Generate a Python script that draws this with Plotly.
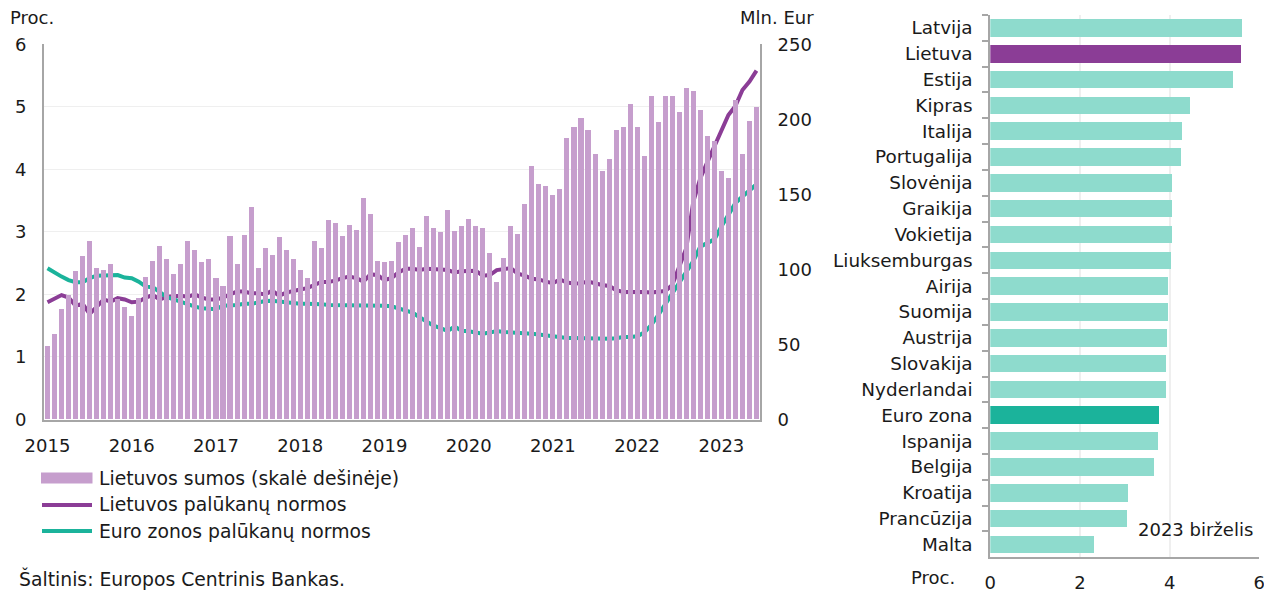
import plotly.graph_objects as go

# ---------------- data ----------------
years = ["2015", "2016", "2017", "2018", "2019", "2020", "2021", "2022", "2023"]

lt_amounts = [
    48.5, 56.8, 73.7, 83, 98.8, 109, 118.8, 101, 99.7, 103.7, 80, 74.8,
    69, 81, 94.8, 105.7, 115.7, 106.8, 96.8, 103.7, 118.8, 112.8, 104.8, 106.8,
    93.9, 89, 121.9, 103.7, 122.8, 141.7, 100.8, 113.9, 109.7, 121.7, 112.8, 106.8,
    99.7, 93.9, 118.8, 113.9, 132.8, 131, 121.9, 129.7, 125.9, 147.7, 136.8, 105.7,
    104.8, 105.7, 117.9, 122.8, 127.7, 114.8, 135.7, 127.7, 124.8, 139.7, 125.7, 128.5,
    133.7, 128.5, 127.7, 110.5, 91.7, 107.7, 128.5, 123.7, 143.7, 168.8, 156.8, 155.7,
    149.7, 153.7, 187.7, 194.8, 200.8, 192.8, 176.8, 165.7, 173.7, 192.8, 194.8, 209.7,
    194.8, 175.7, 215.5, 197.7, 215.5, 215.5, 204.8, 220.8, 218.8, 205.7, 188.8, 185.7,
    165.7, 160.8, 212.8, 176.8, 198.8, 207.7,
]

lt_rates = [
    1.875, 1.94, 1.99, 1.95, 1.82, 1.85, 1.69, 1.80, 1.92, 1.885, 1.94, 1.92,
    1.875, 1.885, 1.95, 1.99, 1.92, 1.965, 1.98, 1.98, 1.965, 2.00, 1.95, 1.92,
    1.92, 1.95, 2.00, 2.045, 2.045, 2.02, 2.02, 2.00, 2.06, 1.98, 2.03, 2.06,
    2.08, 2.10, 2.15, 2.20, 2.20, 2.22, 2.26, 2.285, 2.26, 2.205, 2.32, 2.31,
    2.23, 2.26, 2.35, 2.41, 2.41, 2.39, 2.41, 2.41, 2.40, 2.39, 2.35, 2.37,
    2.37, 2.38, 2.30, 2.31, 2.39, 2.40, 2.42, 2.33, 2.30, 2.25, 2.24, 2.205,
    2.18, 2.24, 2.19, 2.175, 2.18, 2.205, 2.17, 2.15, 2.135, 2.07, 2.04, 2.04,
    2.05, 2.04, 2.03, 2.05, 2.055, 2.15, 2.445, 2.74, 3.485, 3.86, 4.115, 4.365,
    4.615, 4.87, 5.015, 5.27, 5.405, 5.58,
]

ez_rates = [
    2.42, 2.35, 2.285, 2.23, 2.195, 2.195, 2.26, 2.30, 2.30, 2.30, 2.31, 2.27,
    2.26, 2.205, 2.125, 2.115, 2.03, 1.955, 1.92, 1.88, 1.85, 1.805, 1.78, 1.77,
    1.765, 1.82, 1.82, 1.83, 1.85, 1.85, 1.87, 1.895, 1.90, 1.885, 1.875, 1.85,
    1.85, 1.85, 1.85, 1.845, 1.83, 1.83, 1.825, 1.82, 1.82, 1.82, 1.83, 1.82,
    1.82, 1.81, 1.78, 1.74, 1.71, 1.635, 1.565, 1.50, 1.46, 1.415, 1.485, 1.42,
    1.41, 1.39, 1.37, 1.39, 1.415, 1.40, 1.395, 1.395, 1.38, 1.37, 1.36, 1.345,
    1.345, 1.32, 1.305, 1.305, 1.30, 1.30, 1.30, 1.29, 1.29, 1.30, 1.32, 1.32,
    1.33, 1.39, 1.51, 1.67, 1.84, 2.02, 2.18, 2.34, 2.535, 2.765, 2.82, 2.88,
    3.085, 3.27, 3.46, 3.565, 3.67, 3.76,
]

countries = ["Latvija", "Lietuva", "Estija", "Kipras", "Italija", "Portugalija",
             "Slovėnija", "Graikija", "Vokietija", "Liuksemburgas", "Airija",
             "Suomija", "Austrija", "Slovakija", "Nyderlandai", "Euro zona",
             "Ispanija", "Belgija", "Kroatija", "Prancūzija", "Malta"]
country_rates = [5.61, 5.59, 5.43, 4.46, 4.28, 4.25, 4.07, 4.07, 4.06, 4.03, 3.98,
                 3.97, 3.95, 3.93, 3.93, 3.76, 3.755, 3.65, 3.08, 3.05, 2.31]

legend_labels = ["Lietuvos sumos (skalė dešinėje)", "Lietuvos palūkanų normos",
                 "Euro zonos palūkanų normos"]

# ---------------- styling ----------------
FONT = "DejaVu Sans"
FS = 18
FS_TEXT = 18.8
TXT = "#1a1a1a"
BAR_PURPLE = "#C69ECD"
PURPLE = "#8B3D96"
TEAL = "#1BB39B"
LIGHT_TEAL = "#8EDBCD"
AXIS_GREY = "#A6A6A6"
GRID = "#EFEFEF"
LW = 4

W, H = 1272, 592
OFF = 8  # page body margin of the html page


def px_x(p):
    return (p - OFF) / W


def px_y(p):
    return 1 - (p - OFF) / H


month_pos = [i + 0.5 for i in range(len(lt_amounts))]
year_pos = [12 * i + 0.5 for i in range(len(years))]

bar_colors = []
for c in countries:
    if c == "Lietuva":
        bar_colors.append(PURPLE)
    elif c == "Euro zona":
        bar_colors.append(TEAL)
    else:
        bar_colors.append(LIGHT_TEAL)

fig = go.Figure()

fig.add_trace(go.Bar(
    x=month_pos, y=lt_amounts, width=0.72, marker=dict(color=BAR_PURPLE, line=dict(width=0)),
    name=legend_labels[0], xaxis="x", yaxis="y2", showlegend=False,
))
fig.add_trace(go.Scatter(
    x=month_pos, y=lt_rates, mode="lines", line=dict(color=PURPLE, width=LW),
    name=legend_labels[1], xaxis="x", yaxis="y", showlegend=False,
))
fig.add_trace(go.Scatter(
    x=month_pos, y=ez_rates, mode="lines", line=dict(color=TEAL, width=LW),
    name=legend_labels[2], xaxis="x", yaxis="y", showlegend=False,
))

fig.add_trace(go.Bar(
    x=country_rates, y=countries, orientation="h", width=0.68,
    marker=dict(color=bar_colors, line=dict(width=0)),
    xaxis="x2", yaxis="y3", showlegend=False,
))

left_dom_x = [px_x(44), px_x(760)]
left_dom_y = [px_y(419.5), px_y(44.3)]
right_dom_x = [px_x(990.3), px_x(1259.3)]
right_dom_y = [px_y(557.3), px_y(15)]

# legend drawn as layout decoration (symbol + label rows)
legend_rows_y = [478, 505, 531]
legend_styles = [("rect", BAR_PURPLE), ("line", PURPLE), ("line", TEAL)]
shapes = []
annotations = []
for (kind, col), ry, lab in zip(legend_styles, legend_rows_y, legend_labels):
    if kind == "rect":
        shapes.append(dict(type="rect", xref="paper", yref="paper",
                           x0=px_x(41), x1=px_x(92.5), y0=px_y(ry + 5.5), y1=px_y(ry - 5.5),
                           fillcolor=col, line=dict(width=0)))
    else:
        shapes.append(dict(type="line", xref="paper", yref="paper",
                           x0=px_x(42), x1=px_x(92), y0=px_y(ry), y1=px_y(ry),
                           line=dict(color=col, width=LW)))
    annotations.append(dict(text=lab, x=px_x(97), y=px_y(ry), xref="paper", yref="paper",
                            xanchor="left", yanchor="middle", showarrow=False,
                            font=dict(size=FS_TEXT)))

annotations += [
    dict(text="Proc.", x=px_x(8), y=px_y(17), xref="paper", yref="paper",
         xanchor="left", yanchor="middle", showarrow=False),
    dict(text="Mln. Eur", x=px_x(816), y=px_y(17), xref="paper", yref="paper",
         xanchor="right", yanchor="middle", showarrow=False),
    dict(text="Šaltinis: Europos Centrinis Bankas.", x=px_x(17), y=px_y(578),
         xref="paper", yref="paper", xanchor="left", yanchor="middle", showarrow=False,
         font=dict(size=FS_TEXT)),
    dict(text="Proc.", x=px_x(933), y=px_y(577), xref="paper", yref="paper",
         xanchor="center", yanchor="middle", showarrow=False),
    dict(text="2023 birželis", x=px_x(1195), y=px_y(529), xref="paper", yref="paper",
         xanchor="center", yanchor="middle", showarrow=False),
]

fig.update_layout(
    width=W, height=H,
    margin=dict(l=0, r=0, t=0, b=0, autoexpand=False),
    paper_bgcolor="white", plot_bgcolor="white",
    font=dict(family=FONT, size=FS, color=TXT),
    bargap=0,
    showlegend=False,
    shapes=shapes,
    annotations=annotations,
    xaxis=dict(
        domain=left_dom_x, range=[0, len(lt_amounts)], anchor="y", automargin=False,
        tickmode="array", tickvals=year_pos, ticktext=years,
        showgrid=False, zeroline=False, showline=True, linecolor=AXIS_GREY, linewidth=2,
        ticks="", ticklabelstandoff=9,
    ),
    yaxis=dict(
        domain=left_dom_y, range=[0, 6], dtick=1, anchor="x", automargin=False,
        showgrid=True, gridcolor=GRID, gridwidth=1, zeroline=False,
        showline=True, linecolor=AXIS_GREY, linewidth=2, ticks="", ticklabelstandoff=12,
    ),
    yaxis2=dict(
        range=[0, 250], dtick=50, overlaying="y", side="right", anchor="x", automargin=False,
        showgrid=False, zeroline=False, showline=True, linecolor=AXIS_GREY, linewidth=2,
        ticks="", ticklabelstandoff=12,
    ),
    xaxis2=dict(
        domain=right_dom_x, range=[0, 6], dtick=2, anchor="y3", automargin=False,
        showgrid=True, gridcolor=GRID, gridwidth=1.5, zeroline=False,
        showline=True, linecolor=AXIS_GREY, linewidth=2, ticks="", ticklabelstandoff=8,
    ),
    yaxis3=dict(
        domain=right_dom_y, anchor="x2", type="category", automargin=False,
        categoryorder="array", categoryarray=countries, autorange="reversed",
        showline=True, linecolor=AXIS_GREY, linewidth=2,
        ticks="outside", tickson="boundaries", ticklen=6, tickcolor=AXIS_GREY, tickwidth=2,
        showgrid=False, ticklabelstandoff=12, tickfont=dict(size=18.4),
    ),
)

fig.write_html("out.html")
